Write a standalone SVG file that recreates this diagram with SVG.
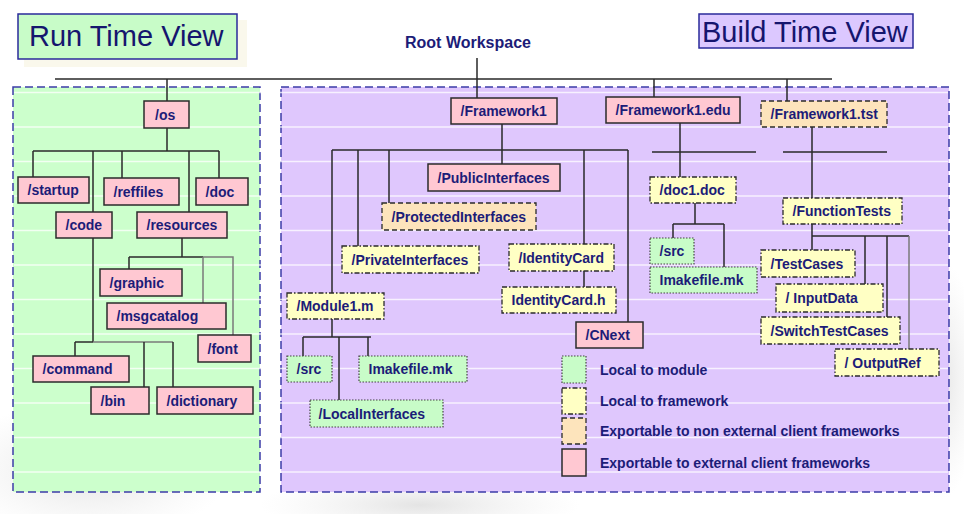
<svg xmlns="http://www.w3.org/2000/svg" width="964" height="514" viewBox="0 0 964 514">
<defs>
<radialGradient id="blot" cx="0.5" cy="0.5" r="0.5">
<stop offset="0" stop-color="#d8d8d8" stop-opacity="0.7"/>
<stop offset="1" stop-color="#e8e8e8" stop-opacity="0"/>
</radialGradient>
<style>
.pk{fill:#ffc8d2;stroke:#2b2b2b;stroke-width:1.5}
.pe{fill:#fde4bc;stroke:#2b2b2b;stroke-width:1.3;stroke-dasharray:5 3}
.ye{fill:#ffffc4;stroke:#2b2b2b;stroke-width:1.3;stroke-dasharray:5 2 1.5 2}
.gr{fill:#c8fcc8;stroke:#444;stroke-width:1.2;stroke-dasharray:1.5 1.5}
.t{font-family:"Liberation Sans",Arial,sans-serif;font-size:14px;font-weight:bold;fill:#1c1c78}
.ttl{font-family:"Liberation Sans",Arial,sans-serif;font-size:29px;fill:#15156e}
.panel{stroke:#3c3ca8;stroke-width:1.5;stroke-dasharray:8 4}
.c{fill:none;stroke:#2a2a2a;stroke-width:1.5}
.cg{fill:none;stroke:#7a7a7a;stroke-width:1.5}
.st{stroke:#ffffff;stroke-opacity:0.75;stroke-width:1.5}
</style>
</defs>
<rect width="964" height="514" fill="#ffffff"/>
<ellipse cx="90" cy="470" rx="140" ry="70" fill="url(#blot)"/>
<ellipse cx="420" cy="505" rx="160" ry="30" fill="url(#blot)"/>
<ellipse cx="940" cy="380" rx="40" ry="120" fill="url(#blot)"/>
<rect x="24" y="20" width="223" height="47" fill="#faf8ec"/>

<g id="title-run">
<rect x="18" y="14" width="219" height="45" fill="#c8fcc8" stroke="#2a2a9a" stroke-width="1.5"/>
<text class="ttl" x="29" y="46">Run Time View</text>
</g>
<g id="title-build">
<rect x="699" y="14" width="214" height="34" fill="#dcc8ff" stroke="#2a2a9a" stroke-width="1.5"/>
<text class="ttl" x="702" y="42">Build Time View</text>
</g>

<g id="panels">
<rect class="panel" x="13" y="87" width="247" height="405" fill="#ccffcc"/>
<rect class="panel" x="281" y="87" width="668" height="405" fill="#dfc7fd"/>
<g id="stripes">
<line class="st" x1="14" y1="92.5" x2="948" y2="92.5"/>
<line class="st" x1="14" y1="127" x2="948" y2="127"/>
<line class="st" x1="14" y1="161.5" x2="948" y2="161.5"/>
<line class="st" x1="14" y1="196" x2="948" y2="196"/>
<line class="st" x1="14" y1="230.5" x2="948" y2="230.5"/>
<line class="st" x1="14" y1="265" x2="948" y2="265"/>
<line class="st" x1="14" y1="299.5" x2="948" y2="299.5"/>
<line class="st" x1="14" y1="334" x2="948" y2="334"/>
<line class="st" x1="14" y1="368.5" x2="948" y2="368.5"/>
<line class="st" x1="14" y1="403" x2="948" y2="403"/>
<line class="st" x1="14" y1="437.5" x2="948" y2="437.5"/>
<line class="st" x1="14" y1="472" x2="948" y2="472"/>
</g>
</g>

<g id="root">
<text x="405" y="48" font-family="'Liberation Sans',Arial,sans-serif" font-size="16" font-weight="bold" fill="#1c1c78">Root Workspace</text>
</g>

<g id="connectors">
<path class="c" d="M477,58V98M55,79H832M167,79V101M654,79V97M787,79V101"/>
<path class="c" d="M167,128V151M33,151H219M33,151V177M93,151V342M122,151V178M189,151V212M219,151V178"/>
<path class="c" d="M182,238V257M129,257H203M129,257V269"/>
<path class="cg" d="M203,257H233V335M203,257V303"/>
<path class="c" d="M75,342H93"/>
<path class="cg" d="M93,342H173"/>
<path class="c" d="M75,342V356M144,342V387M173,342V387"/>
<path class="c" d="M502,124V164M332,150H628M332,150V293M358,150V246M389,150V203M584,150V244M628,150V322M584,271V287"/>
<path class="c" d="M332,319V337M303,337H371M303,337V356M339,337V400M368,337V356"/>
<path class="c" d="M680,123V177M652,152H756M695,203V224M673,224H724M673,224V238M724,224V267"/>
<path class="c" d="M812,127V250M783,152H887M812,236H909M865,236V284M887,236V317"/>
<path class="cg" d="M909,236V349"/>
</g>

<g id="n-os"><rect class="pk" x="144" y="101" width="45" height="27"/><text class="t" x="155" y="119.5">/os</text></g>
<g id="n-startup"><rect class="pk" x="18" y="177" width="71" height="26"/><text class="t" x="27.5" y="195">/startup</text></g>
<g id="n-reffiles"><rect class="pk" x="104" y="178" width="75" height="27"/><text class="t" x="113.5" y="196.5">/reffiles</text></g>
<g id="n-doc"><rect class="pk" x="196" y="178" width="52" height="27"/><text class="t" x="205.5" y="196.5">/doc</text></g>
<g id="n-code"><rect class="pk" x="56" y="212" width="56" height="26"/><text class="t" x="65.5" y="230">/code</text></g>
<g id="n-resources"><rect class="pk" x="137" y="212" width="90" height="26"/><text class="t" x="146.5" y="230">/resources</text></g>
<g id="n-graphic"><rect class="pk" x="100" y="269" width="82" height="27"/><text class="t" x="109.5" y="287.5">/graphic</text></g>
<g id="n-msgcatalog"><rect class="pk" x="107" y="303" width="119" height="26"/><text class="t" x="116.5" y="321">/msgcatalog</text></g>
<g id="n-font"><rect class="pk" x="198" y="335" width="53" height="27"/><text class="t" x="207.5" y="353.5">/font</text></g>
<g id="n-command"><rect class="pk" x="33" y="356" width="96" height="26"/><text class="t" x="42.5" y="374">/command</text></g>
<g id="n-bin"><rect class="pk" x="91" y="387" width="58" height="27"/><text class="t" x="100.5" y="405.5">/bin</text></g>
<g id="n-dictionary"><rect class="pk" x="157" y="387" width="96" height="27"/><text class="t" x="166.5" y="405.5">/dictionary</text></g>

<g id="n-framework1"><rect class="pk" x="451" y="98" width="106" height="26"/><text class="t" x="460.5" y="116">/Framework1</text></g>
<g id="n-framework1edu"><rect class="pk" x="606" y="97" width="134" height="26"/><text class="t" x="615.5" y="115">/Framework1.edu</text></g>
<g id="n-framework1tst"><rect class="pe" x="761" y="101" width="126" height="26"/><text class="t" x="770.5" y="119">/Framework1.tst</text></g>
<g id="n-public"><rect class="pk" x="428" y="164" width="132" height="27"/><text class="t" x="437.5" y="182.5">/PublicInterfaces</text></g>
<g id="n-protected"><rect class="pe" x="382" y="203" width="154" height="27"/><text class="t" x="391.5" y="221.5">/ProtectedInterfaces</text></g>
<g id="n-private"><rect class="ye" x="342" y="246" width="137" height="27"/><text class="t" x="351.5" y="264.5">/PrivateInterfaces</text></g>
<g id="n-identitycard"><rect class="ye" x="509" y="244" width="105" height="27"/><text class="t" x="518.5" y="262.5">/IdentityCard</text></g>
<g id="n-identitycardh"><rect class="ye" x="502" y="287" width="114" height="26"/><text class="t" x="511.5" y="305">IdentityCard.h</text></g>
<g id="n-module1"><rect class="ye" x="287" y="293" width="97" height="26"/><text class="t" x="296.5" y="311">/Module1.m</text></g>
<g id="n-cnext"><rect class="pk" x="576" y="322" width="67" height="26"/><text class="t" x="585.5" y="340">/CNext</text></g>
<g id="n-msrc"><rect class="gr" x="287" y="356" width="45" height="26"/><text class="t" x="296.5" y="374">/src</text></g>
<g id="n-mimake"><rect class="gr" x="359" y="356" width="108" height="26"/><text class="t" x="368.5" y="374">Imakefile.mk</text></g>
<g id="n-local"><rect class="gr" x="310" y="400" width="133" height="27"/><text class="t" x="318.5" y="418.5">/LocalInterfaces</text></g>
<g id="n-doc1"><rect class="ye" x="650" y="177" width="86" height="26"/><text class="t" x="659.5" y="195">/doc1.doc</text></g>
<g id="n-dsrc"><rect class="gr" x="650" y="238" width="44" height="26"/><text class="t" x="659.5" y="256">/src</text></g>
<g id="n-dimake"><rect class="gr" x="650" y="267" width="107" height="26"/><text class="t" x="659.5" y="285">Imakefile.mk</text></g>
<g id="n-functiontests"><rect class="ye" x="783" y="198" width="119" height="26"/><text class="t" x="792.5" y="216">/FunctionTests</text></g>
<g id="n-testcases"><rect class="ye" x="761" y="250" width="94" height="27"/><text class="t" x="770.5" y="268.5">/TestCases</text></g>
<g id="n-inputdata"><rect class="ye" x="776" y="284" width="107" height="28"/><text class="t" x="785.5" y="303">/ InputData</text></g>
<g id="n-switch"><rect class="ye" x="761" y="317" width="139" height="27"/><text class="t" x="770.5" y="335.5">/SwitchTestCases</text></g>
<g id="n-outputref"><rect class="ye" x="835" y="349" width="104" height="27"/><text class="t" x="844.5" y="367.5">/ OutputRef</text></g>

<g id="legend">
<rect class="gr" x="562" y="356" width="24" height="27"/>
<rect class="ye" x="562" y="388" width="24" height="26"/>
<rect class="pe" x="562" y="418" width="24" height="26"/>
<rect class="pk" x="562" y="449" width="24" height="27"/>
<text class="t" x="600" y="374.5">Local to module</text>
<text class="t" x="600" y="406">Local to framework</text>
<text class="t" x="600" y="436">Exportable to non external client frameworks</text>
<text class="t" x="600" y="467.5">Exportable to external client frameworks</text>
</g>
</svg>
